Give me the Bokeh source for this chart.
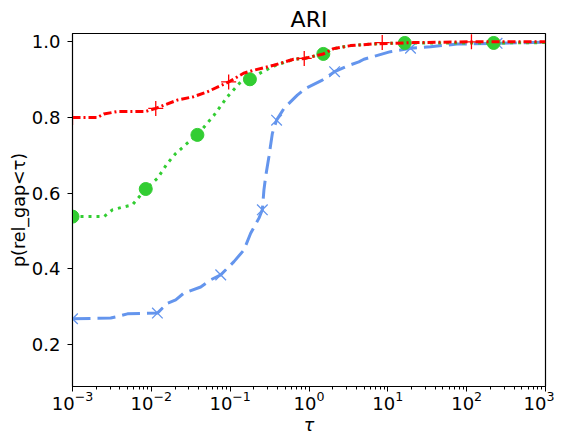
from bokeh.plotting import figure
from bokeh.models import FixedTicker, Range1d
from bokeh.embed import file_html
from bokeh.resources import INLINE

# ---- data ----
red_tau = [0.001, 0.00207, 0.00249, 0.00375, 0.00849, 0.01138, 0.0214, 0.0344, 0.0514, 0.0957,
           0.148, 0.199, 0.356, 0.638, 0.87, 1.52, 2.05, 3.37, 7.34, 21.2, 115, 1000]
red_p = [0.800, 0.800, 0.809, 0.816, 0.816, 0.824, 0.846, 0.855, 0.868, 0.894,
         0.917, 0.925, 0.938, 0.954, 0.956, 0.968, 0.982, 0.990, 0.995, 0.998, 1.0, 1.0]
red_mark_tau = [0.001, 0.01138, 0.0957, 0.87, 8.49, 115]
red_mark_p = [0.800, 0.824, 0.894, 0.956, 0.998, 1.0]

green_tau = [0.001, 0.00251, 0.00321, 0.00451, 0.00575, 0.00849, 0.01194, 0.0160, 0.0204, 0.0301,
             0.0384, 0.0624, 0.0923, 0.136, 0.178, 0.243, 0.359, 0.638, 0.87, 1.52, 2.05, 3.37,
             7.34, 16.4, 220, 1000]
green_p = [0.538, 0.538, 0.556, 0.564, 0.569, 0.611, 0.639, 0.679, 0.705, 0.736,
           0.754, 0.806, 0.855, 0.894, 0.901, 0.918, 0.936, 0.954, 0.956, 0.968, 0.982, 0.990,
           0.995, 0.997, 0.997, 0.998]
green_mark_tau = [0.001, 0.00849, 0.0384, 0.178, 1.52, 16.4, 220]
green_mark_p = [0.538, 0.611, 0.754, 0.901, 0.968, 0.997, 0.997]

blue_tau = [0.001, 0.00305, 0.00372, 0.00498, 0.01194, 0.0160, 0.0204, 0.0259, 0.0423, 0.0566,
            0.0759, 0.1117, 0.1496, 0.182, 0.232, 0.256, 0.268, 0.282, 0.310, 0.343, 0.388,
            0.481, 0.711, 0.906, 1.476, 2.11, 3.05, 4.29, 4.97, 10.8, 19.4, 34.8, 75.9, 243, 1000]
blue_p = [0.268, 0.270, 0.274, 0.281, 0.283, 0.309, 0.318, 0.336, 0.352, 0.371,
          0.384, 0.419, 0.450, 0.494, 0.534, 0.556, 0.608, 0.644, 0.696, 0.758, 0.793,
          0.824, 0.859, 0.877, 0.899, 0.921, 0.936, 0.947, 0.954, 0.974, 0.983, 0.987, 0.994, 0.996, 0.999]
blue_mark_tau = [0.001, 0.01194, 0.0759, 0.256, 0.388, 2.11, 19.4, 243]
blue_mark_p = [0.268, 0.283, 0.384, 0.556, 0.793, 0.921, 0.983, 0.996]

x_major = [1e-3, 1e-2, 1e-1, 1e0, 1e1, 1e2, 1e3]
y_major = [0.2, 0.4, 0.6, 0.8, 1.0]

FONT = "DejaVu Sans"

p = figure(x_axis_type="log", output_backend="svg", toolbar_location=None,
           frame_width=473, frame_height=353,
           min_border_left=72, min_border_right=9, min_border_top=33, min_border_bottom=44,
           x_range=Range1d(1e-3, 1e3), y_range=Range1d(0.089, 1.022),
           title="ARI", background_fill_color="white", border_fill_color="white")

p.title.align = "center"
p.title.text_font = FONT
p.title.text_font_size = "22px"
p.title.text_font_style = "normal"
p.title.text_color = "black"
p.title.standoff = 4

p.xgrid.visible = False
p.ygrid.visible = False
p.outline_line_color = "black"
p.outline_line_width = 1.2
p.outline_line_alpha = 1.0

minor = []
for e in range(-3, 3):
    for m in range(2, 10):
        minor.append(m * 10.0 ** e)
p.xaxis.ticker = FixedTicker(ticks=x_major, minor_ticks=minor)
p.yaxis.ticker = FixedTicker(ticks=y_major)
p.yaxis.major_label_overrides = {v: f"{v:.1f}" for v in y_major}

for ax in (p.xaxis[0], p.yaxis[0]):
    ax.major_label_text_font = FONT
    ax.major_label_text_font_size = "18px"
    ax.major_label_text_color = "black"
    ax.axis_label_text_font = FONT
    ax.axis_label_text_font_size = "17.5px"
    ax.axis_label_text_color = "black"
    ax.axis_line_color = "black"
    ax.major_tick_line_color = "black"
    ax.minor_tick_line_color = "black"
    ax.major_tick_out = 5
    ax.major_tick_in = 0
    ax.minor_tick_out = 3
    ax.minor_tick_in = 0

p.yaxis.minor_tick_line_color = None
p.xaxis.axis_label = "τ"
p.xaxis.axis_label_text_font_style = "italic"
p.yaxis.axis_label = "p(rel_gap<τ)"
p.yaxis.axis_label_text_font_style = "normal"
p.yaxis.major_label_standoff = 7
p.xaxis.major_label_standoff = -1
p.yaxis.axis_label_standoff = 0
p.xaxis.axis_label_standoff = 2

RED = "#ff0000"
GREEN = "#32cd32"
BLUE = "#6495ed"

p.line(blue_tau, blue_p, line_color=BLUE, line_width=3, line_dash="18 7")
p.scatter(blue_mark_tau, blue_mark_p, marker="x", size=15, line_color=BLUE, line_width=1.3)

p.line(green_tau, green_p, line_color=GREEN, line_width=3, line_dash="3 5")
p.scatter(green_mark_tau, green_mark_p, marker="circle", size=13, fill_color=GREEN, line_color=GREEN)

p.line(red_tau, red_p, line_color=RED, line_width=3, line_dash="8 3 2 3")
p.scatter(red_mark_tau, red_mark_p, marker="cross", size=15, line_color=RED, line_width=1.3)

open("out.html", "w").write(file_html(p, INLINE))
